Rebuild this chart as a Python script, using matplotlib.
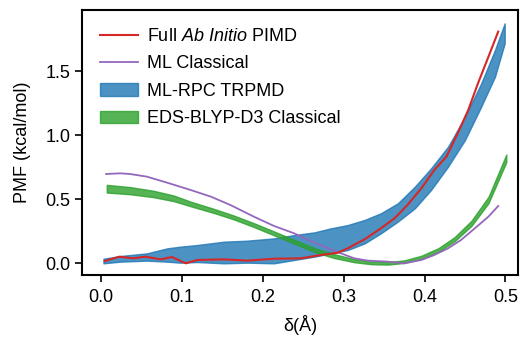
import matplotlib
matplotlib.use("Agg")
import matplotlib.pyplot as plt
import numpy as np

plt.rcParams['font.family'] = ['Liberation Sans', 'DejaVu Sans']
plt.rcParams['mathtext.fontset'] = 'custom'
plt.rcParams['mathtext.rm'] = 'Liberation Sans'
plt.rcParams['mathtext.it'] = 'Liberation Sans:italic'

# Full Ab Initio PIMD
pimd_x = [0.005, 0.023, 0.040, 0.055, 0.074, 0.088, 0.105, 0.119, 0.152, 0.181, 0.214,
          0.247, 0.272, 0.293, 0.305, 0.326, 0.346, 0.363, 0.379, 0.396, 0.412, 0.427,
          0.441, 0.454, 0.466, 0.479, 0.491]
pimd_y = [0.018, 0.052, 0.039, 0.052, 0.031, 0.049, 0.0, 0.026, 0.031, 0.021, 0.036,
          0.039, 0.065, 0.083, 0.117, 0.188, 0.273, 0.352, 0.456, 0.586, 0.729, 0.833,
          1.016, 1.198, 1.406, 1.615, 1.81]

# ML Classical
mlc_x = [0.0066, 0.024, 0.036, 0.057, 0.082, 0.111, 0.136, 0.160, 0.189, 0.214, 0.239,
         0.264, 0.288, 0.313, 0.330, 0.355, 0.375, 0.396, 0.412, 0.429, 0.445, 0.462,
         0.479, 0.491]
mlc_y = [0.698, 0.703, 0.698, 0.677, 0.630, 0.573, 0.521, 0.456, 0.365, 0.292, 0.234,
         0.161, 0.099, 0.039, 0.021, 0.013, 0.0, 0.026, 0.065, 0.117, 0.182, 0.273,
         0.365, 0.448]

# ML-RPC TRPMD (band)
rpc_x = [0.0033, 0.024, 0.057, 0.082, 0.098, 0.119, 0.152, 0.181, 0.214, 0.239, 0.264,
         0.284, 0.305, 0.326, 0.346, 0.367, 0.388, 0.408, 0.429, 0.450, 0.470, 0.487, 0.499]
rpc_hi = [0.036, 0.057, 0.078, 0.117, 0.130, 0.143, 0.169, 0.177, 0.195, 0.221, 0.242,
          0.273, 0.299, 0.339, 0.391, 0.469, 0.599, 0.742, 0.911, 1.146, 1.406, 1.667, 1.875]
rpc_lo = [0.0, 0.013, 0.021, 0.013, 0.005, 0.010, 0.0, 0.005, 0.0, 0.026, 0.052,
          0.078, 0.104, 0.156, 0.234, 0.326, 0.430, 0.573, 0.755, 0.964, 1.224, 1.458, 1.719]

# EDS-BLYP-D3 Classical (band)
eds_x = [0.0074, 0.036, 0.065, 0.090, 0.111, 0.140, 0.164, 0.189, 0.214, 0.239, 0.264,
         0.288, 0.313, 0.334, 0.355, 0.375, 0.396, 0.417, 0.437, 0.458, 0.479, 0.501]
eds_mid = [0.583, 0.568, 0.542, 0.508, 0.464, 0.409, 0.359, 0.299, 0.234, 0.169, 0.104,
           0.057, 0.021, 0.003, 0.0, 0.013, 0.047, 0.104, 0.188, 0.313, 0.495, 0.820]
eds_hw = [0.030, 0.028, 0.025, 0.022, 0.018, 0.016, 0.015, 0.015, 0.015, 0.015, 0.015,
          0.015, 0.012, 0.010, 0.010, 0.010, 0.012, 0.014, 0.016, 0.020, 0.025, 0.030]

fig = plt.figure(figsize=(5.2, 3.41), dpi=100)
ax = fig.add_axes([0.158, 0.194, 0.839, 0.777])

eds_mid_a = np.array(eds_mid)
eds_hw_a = np.array(eds_hw)

ax.plot(pimd_x, pimd_y, color='#d62728', lw=1.5, label='Full $\\mathit{Ab\\ Initio}$ PIMD', zorder=4)
ax.plot(mlc_x, mlc_y, color='#9467bd', lw=1.3, label='ML Classical', zorder=3)
ax.fill_between(rpc_x, rpc_lo, rpc_hi, facecolor='#1f77b4', edgecolor='#1f77b4',
                alpha=0.8, lw=1.0, label='ML-RPC TRPMD', zorder=2)
ax.fill_between(eds_x, eds_mid_a - eds_hw_a, eds_mid_a + eds_hw_a, facecolor='#2ca02c',
                edgecolor='#2ca02c', alpha=0.8, lw=1.0, label='EDS-BLYP-D3 Classical', zorder=2)

ax.set_xlim(-0.023, 0.516)
ax.set_ylim(-0.09, 1.98)
ax.set_xticks([0.0, 0.1, 0.2, 0.3, 0.4, 0.5])
ax.set_yticks([0.0, 0.5, 1.0, 1.5])
ax.tick_params(direction='out', length=5, width=1.2, labelsize=13)
ax.tick_params(axis='x', pad=5)
for s in ax.spines.values():
    s.set_linewidth(1.5)

ax.set_xlabel('δ(Å)', fontsize=13, labelpad=7)
ax.set_ylabel('PMF (kcal/mol)', fontsize=13, labelpad=10)

ax.legend(loc='upper left', frameon=False, fontsize=13, handlelength=2.1,
          borderaxespad=0.6, labelspacing=0.58, handletextpad=0.5)

fig.savefig('out.png', dpi=100)
